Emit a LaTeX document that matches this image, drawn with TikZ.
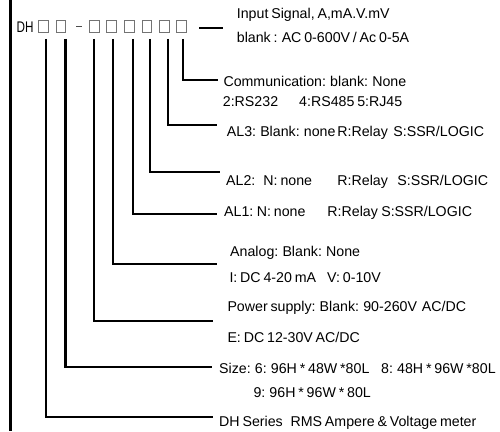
\documentclass[tikz,border=0pt]{standalone}
\usepackage{graphicx}
\usepackage{fontspec}
\setmainfont[WordSpace=0.72]{Liberation Sans}
\begin{document}
\begin{tikzpicture}[x=1pt,y=-1pt,
  box/.style={draw=black!55,line width=1pt,minimum width=9.5pt,minimum height=11.5pt,inner sep=0pt},
  conn/.style={line width=2.3pt,shorten <=6pt},
  lbl/.style={anchor=base west,inner sep=0pt,font=\fontsize{14.2pt}{16pt}\selectfont}]
\useasboundingbox (0,0) rectangle (500,431);
% left border
\draw[line width=2.4pt] (10.3,0) -- (10.3,431);
% code
\node[anchor=base west,inner sep=0pt] (dh) at (16.5,32) {\scalebox{0.76}[1]{\fontsize{15.4pt}{16pt}\selectfont DH}};
\node[box] (b1) at (43.5,26.5) {};
\node[box] (b2) at (60.8,26.5) {};
\coordinate (d1) at (76,26.7);
\coordinate (d2) at (82,26.7);
\draw[black!70,line width=1.2pt] (d1) -- (d2);
\node[box] (b3) at (94.7,26.5) {};
\node[box] (b4) at (111.7,26.5) {};
\node[box] (b5) at (129.5,26.5) {};
\node[box] (b6) at (147.2,26.5) {};
\node[box] (b7) at (164.3,26.5) {};
\node[box] (b8) at (181.7,26.5) {};
% line ends
\coordinate (in0) at (199,27.7);
\coordinate (in1) at (223,27.7);
\coordinate (e1) at (213,417);
\coordinate (e2) at (212,367);
\coordinate (e3) at (213,321);
\coordinate (e4) at (216.7,264.3);
\coordinate (e5) at (216.7,214.3);
\coordinate (e6) at (220,171.7);
\coordinate (e7) at (216.7,125);
\coordinate (e8) at (218,80);
% connectors
\draw[line width=2.3pt] (in0) -- (in1);
\draw[conn] ([xshift=2.7pt]b1.south) |- (e1);
\draw[conn] ([xshift=4.7pt]b2.south) |- (e2);
\draw[conn] ([xshift=-0.4pt]b3.south) |- (e3);
\draw[conn] ([xshift=1.6pt]b4.south) |- (e4);
\draw[conn] ([xshift=3.2pt]b5.south) |- (e5);
\draw[conn] ([xshift=2.8pt]b6.south) |- (e6);
\draw[conn] ([xshift=3.4pt]b7.south) |- (e7);
\draw[conn] ([xshift=1.0pt]b8.south) |- (e8);
% labels
\node[lbl] (tin1) at (236.7,18.5) {Input Signal, A,mA.V.mV};
\node[lbl] (tin2) at (236.7,42.7) {blank : AC 0-600V / Ac 0-5A};
\node[lbl] (tc1) at (223.3,86) {Communication: blank: None};
\node[lbl] (tc2) at (222.7,106) {\makebox[76.3pt][l]{2:RS232}4:RS485 5:RJ45};
\node[lbl] (ta3) at (226.7,136) {\makebox[110.5pt][l]{AL3: Blank: none}\makebox[56pt][l]{R:Relay}S:SSR/LOGIC};
\node[lbl] (ta2) at (226,185) {\makebox[37.3pt][l]{AL2:}\makebox[74pt][l]{N: none}\makebox[59.9pt][l]{R:Relay}S:SSR/LOGIC};
\node[lbl] (ta1) at (224,216.7) {\makebox[32.7pt][l]{AL1:}\makebox[70.6pt][l]{N: none}\makebox[53.8pt][l]{R:Relay}S:SSR/LOGIC};
\node[lbl] (tan1) at (230,256.7) {Analog: Blank: None};
\node[lbl] (tan2) at (229.3,282.7) {\makebox[97.7pt][l]{I: DC 4-20 mA}V: 0-10V};
\node[lbl] (tp1) at (227.3,311) {\makebox[194.5pt][l]{Power supply: Blank: 90-260V}AC/DC};
\node[lbl] (tp2) at (227.3,342.3) {E: DC 12-30V AC/DC};
\node[lbl] (ts1) at (219,373.3) {\makebox[162pt][l]{Size: 6: 96H * 48W *80L}8: 48H * 96W *80L};
\node[lbl] (ts2) at (253.3,397.3) {9: 96H * 96W * 80L};
\node[lbl] (tdh) at (219,426.7) {DH Series\hspace{7.8pt}RMS Ampere \& Voltage meter};
\end{tikzpicture}
\end{document}
